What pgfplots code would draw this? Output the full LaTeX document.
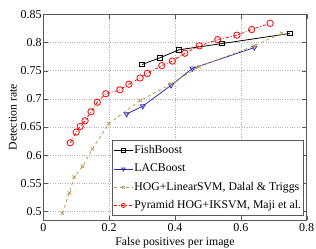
\documentclass[border=0pt]{standalone}
\usepackage{fontspec}
\setmainfont{Liberation Serif}
\usepackage{pgfplots}
\pgfplotsset{compat=1.18}
\definecolor{lacblue}{RGB}{45,45,170}
\definecolor{hogtan}{RGB}{190,155,85}
\begin{document}
\begin{tikzpicture}
\begin{axis}[
  at={(0,0)}, anchor=south west,
  scale only axis, width=263.4bp, height=205.7bp,
  xmin=0, xmax=0.8, ymin=0.485, ymax=0.85,
  xtick={0,0.2,0.4,0.6,0.8},
  ytick={0.5,0.55,0.6,0.65,0.7,0.75,0.8,0.85},
  yticklabels={0.5,0.55,0.6,0.65,0.7,0.75,0.8,0.85},
  xticklabels={0,0.2,0.4,0.6,0.8},
  /pgf/number format/assume math mode=true,
  tick label style={font=\fontsize{12}{14}\selectfont, black},
  yticklabel style={inner xsep=1.5pt},
  label style={font=\fontsize{11.8}{14}\selectfont},
  xlabel={False positives per image},
  ylabel={Detection rate},
  xlabel style={yshift=1bp},
  ylabel style={yshift=-1bp},
  grid=major,
  major grid style={dotted, gray!60, line width=0.5pt},
  axis line style={gray!70!black, line width=0.5pt},
  tick style={gray!70!black},
  tick align=inside,
  xtick pos=both, ytick pos=both,
  legend cell align=left,
  legend style={at={(0.987,0.021)}, anchor=south east, font=\fontsize{11.8}{14}\selectfont,
    draw=gray!70!black, line width=0.5pt, row sep=4.3pt, inner xsep=1pt, inner ysep=3pt,
    nodes={inner xsep=1pt, inner ysep=1.5pt, text height=8.5bp, text depth=2.5bp,
      font=\fontsize{11.8}{14}\selectfont}},
  legend image code/.code={\draw[mark repeat=2, mark phase=2, #1]
    plot coordinates {(0bp,0bp) (9.65bp,0bp) (19.3bp,0bp)};},
  legend image post style={line width=0.8pt, mark size=2pt},
]
\addplot[black, line width=0.8pt, mark=square, mark size=2.3pt, mark options={solid}]
coordinates {(0.300,0.761) (0.355,0.773) (0.412,0.787) (0.542,0.798) (0.749,0.816)};
\addlegendentry{FishBoost}
\addplot[lacblue, line width=0.8pt, mark=triangle, mark size=2.8pt, mark options={solid, rotate=180}]
coordinates {(0.253,0.673) (0.302,0.687) (0.388,0.724) (0.453,0.754) (0.641,0.791)};
\addlegendentry{LACBoost}
\addplot[hogtan, line width=0.8pt, dashed, mark=x, mark size=2.5pt, mark options={solid}]
coordinates {(0.058,0.497) (0.079,0.533) (0.094,0.561) (0.119,0.580) (0.149,0.611)
 (0.199,0.656) (0.294,0.697) (0.388,0.726) (0.473,0.757) (0.640,0.794) (0.724,0.816)};
\addlegendentry{HOG+LinearSVM, Dalal \& Triggs}
\addplot[red, line width=0.8pt, dash dot, mark=o, mark size=3.2pt, mark options={solid}]
coordinates {(0.082,0.622) (0.100,0.641) (0.112,0.651) (0.127,0.661) (0.145,0.677)
 (0.164,0.694) (0.190,0.709) (0.233,0.716) (0.260,0.726) (0.294,0.737) (0.316,0.745)
 (0.360,0.759) (0.392,0.767) (0.430,0.781) (0.474,0.794) (0.530,0.805) (0.588,0.813)
 (0.633,0.823) (0.689,0.834)};
\addlegendentry{Pyramid HOG+IKSVM, Maji et al.\hspace{6.5bp}}
\end{axis}
\pgfresetboundingbox
\useasboundingbox (-43.3bp,-29bp) rectangle (272.7bp,220bp);
\end{tikzpicture}
\end{document}
